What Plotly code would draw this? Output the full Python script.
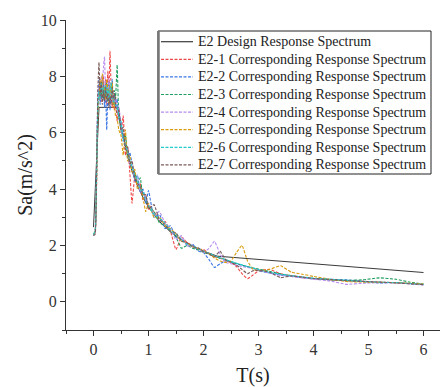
import plotly.graph_objects as go

# ---- data ----
design_T = [0.0, 0.1, 0.45, 0.5, 0.6, 0.7, 0.8, 0.9, 1.0, 1.2, 1.4, 1.6, 1.8, 2.0, 2.25, 6.0]
design_Sa = [2.65, 6.9, 6.9, 6.28, 5.33, 4.64, 4.11, 3.70, 3.36, 2.85, 2.48, 2.20, 1.98, 1.80, 1.62, 1.04]

T = [0.00, 0.03, 0.06, 0.08, 0.10, 0.12, 0.14, 0.16, 0.18, 0.20,
     0.22, 0.24, 0.26, 0.28, 0.30, 0.32, 0.34, 0.36, 0.38, 0.40,
     0.43, 0.46, 0.50, 0.54, 0.58, 0.62, 0.66, 0.70, 0.75, 0.80,
     0.85, 0.90, 0.95, 1.00, 1.10, 1.20, 1.30, 1.40, 1.50, 1.60,
     1.70, 1.80, 1.90, 2.00, 2.10, 2.20, 2.30, 2.40, 2.50, 2.60,
     2.70, 2.80, 2.90, 3.00, 3.20, 3.40, 3.60, 3.80, 4.00, 4.30,
     4.60, 4.90, 5.20, 5.50, 5.75, 6.00]

e2_1 = [2.4, 2.45, 4.6, 6.8, 7.3, 7.8, 7.1, 7.6, 8.0, 7.2,
        7.9, 7.0, 8.2, 7.4, 8.9, 7.6, 6.9, 7.5, 6.8, 7.3,
        6.4, 6.9, 6.0, 6.6, 5.2, 5.5, 4.6, 3.5, 4.4, 4.1,
        4.2, 3.6, 3.8, 3.3, 3.2, 2.9, 2.85, 2.5, 1.85, 2.3,
        2.1, 2.0, 1.85, 1.86, 1.7, 1.6, 1.55, 1.45, 1.4, 1.25,
        1.0, 0.82, 0.95, 1.1, 1.15, 1.0, 0.92, 0.86, 0.82, 0.78,
        0.75, 0.73, 0.70, 0.68, 0.65, 0.62]
e2_2 = [2.35, 2.5, 5.3, 7.3, 7.9, 7.0, 7.6, 7.2, 7.8, 6.9,
        7.5, 6.1, 7.3, 7.8, 6.8, 7.5, 7.9, 7.0, 7.4, 6.9,
        7.2, 6.5, 6.3, 5.7, 5.8, 5.1, 5.3, 4.9, 4.3, 4.5,
        3.9, 4.0, 3.5, 3.95, 3.0, 3.1, 2.6, 2.7, 2.3, 2.25,
        2.0, 2.05, 1.8, 1.75, 1.5, 1.22, 1.35, 1.45, 1.42, 1.35,
        1.3, 1.25, 1.18, 1.1, 1.02, 0.95, 0.9, 0.86, 0.82, 0.80,
        0.78, 0.73, 0.67, 0.68, 0.64, 0.61]
e2_3 = [2.4, 2.5, 4.8, 6.9, 7.4, 7.7, 7.3, 7.9, 7.2, 7.6,
        7.3, 7.8, 7.1, 7.6, 7.4, 7.2, 7.7, 7.0, 7.5, 7.2,
        8.4, 6.6, 6.1, 5.8, 5.9, 5.2, 5.0, 4.7, 4.6, 4.2,
        4.4, 3.7, 3.6, 3.4, 3.2, 2.8, 2.7, 2.5, 2.3, 1.9,
        2.0, 1.9, 1.85, 1.76, 1.68, 1.62, 1.55, 1.5, 1.42, 1.36,
        1.3, 1.24, 1.2, 1.16, 1.08, 0.99, 0.92, 0.87, 0.82, 0.77,
        0.76, 0.78, 0.85, 0.80, 0.70, 0.63]
e2_4 = [2.4, 2.5, 5.1, 7.1, 7.7, 7.4, 8.0, 7.5, 8.3, 8.7,
        7.4, 7.7, 7.2, 7.9, 7.3, 7.6, 7.1, 7.4, 7.0, 7.2,
        6.8, 6.9, 6.3, 5.8, 5.5, 5.4, 4.9, 4.8, 4.4, 4.4,
        3.9, 3.9, 3.6, 3.5, 3.1, 3.2, 2.8, 2.6, 2.2, 2.35,
        2.0, 1.95, 1.9, 1.75, 1.9, 2.15, 1.7, 1.4, 1.35, 1.3,
        1.25, 1.22, 1.18, 1.12, 1.02, 0.94, 0.9, 0.85, 0.8, 0.74,
        0.62, 0.66, 0.68, 0.67, 0.64, 0.60]
e2_5 = [2.4, 2.5, 4.9, 6.8, 7.2, 7.9, 7.4, 8.1, 7.3, 7.6,
        7.2, 7.9, 7.5, 7.0, 7.7, 7.3, 7.8, 6.9, 7.1, 6.6,
        6.5, 6.1, 5.9, 5.2, 6.1, 5.0, 5.2, 4.6, 4.7, 4.0,
        4.1, 3.7, 3.2, 3.5, 3.0, 3.0, 2.7, 2.6, 2.4, 2.15,
        2.1, 1.95, 1.9, 1.8, 1.72, 1.55, 1.45, 1.4, 1.45, 1.75,
        2.0, 1.45, 1.15, 1.1, 1.15, 1.28, 1.05, 0.98, 0.9, 0.8,
        0.72, 0.70, 0.69, 0.68, 0.66, 0.63]
e2_6 = [2.4, 2.5, 5.0, 7.0, 7.5, 7.2, 7.8, 7.4, 7.6, 7.3,
        7.7, 7.3, 7.6, 7.2, 7.5, 7.8, 7.2, 7.3, 7.0, 7.0,
        6.9, 6.6, 6.4, 5.8, 5.5, 5.4, 5.0, 4.8, 4.5, 4.3,
        4.0, 3.9, 3.7, 3.4, 3.1, 2.95, 2.8, 2.55, 2.4, 2.2,
        2.05, 1.98, 1.9, 1.8, 1.72, 1.64, 1.56, 1.5, 1.43, 1.37,
        1.31, 1.25, 1.2, 1.14, 1.05, 0.98, 0.93, 0.88, 0.84, 0.8,
        0.76, 0.72, 0.7, 0.68, 0.65, 0.62]
e2_7 = [2.35, 2.4, 5.2, 7.6, 8.5, 7.3, 7.8, 7.0, 7.5, 7.1,
        7.6, 7.2, 7.4, 6.9, 7.3, 7.0, 7.6, 7.2, 7.4, 7.0,
        6.7, 6.8, 6.1, 6.2, 5.4, 5.5, 4.9, 5.0, 4.4, 4.2,
        4.1, 3.8, 3.8, 3.3, 3.45, 2.9, 2.75, 2.5, 2.45, 2.15,
        2.1, 1.95, 1.92, 1.78, 1.7, 1.6, 1.8, 1.5, 1.4, 1.3,
        1.15, 1.0, 1.1, 1.12, 1.05, 0.86, 0.92, 0.88, 0.83, 0.79,
        0.75, 0.72, 0.70, 0.67, 0.64, 0.61]

design_name = "E2 Design Response Spectrum"
record_names = ["E2-1 Corresponding Response Spectrum",
                "E2-2 Corresponding Response Spectrum",
                "E2-3 Corresponding Response Spectrum",
                "E2-4 Corresponding Response Spectrum",
                "E2-5 Corresponding Response Spectrum",
                "E2-6 Corresponding Response Spectrum",
                "E2-7 Corresponding Response Spectrum"]
records = [e2_1, e2_2, e2_3, e2_4, e2_5, e2_6, e2_7]
colors = ["#F04848", "#3A78E6", "#1E9E5E", "#B88CF0", "#D99A0B", "#22CCCC", "#7A5A5A"]
design_color = "#3a3a3a"
DASH = "3px,1.5px"

FONT = "Liberation Serif, Times New Roman, serif"

fig = go.Figure()
fig.add_trace(go.Scatter(x=design_T, y=design_Sa, mode="lines", name=design_name,
                         line=dict(color=design_color, width=1)))
for name, vals, c in zip(record_names, records, colors):
    fig.add_trace(go.Scatter(x=T, y=vals, mode="lines", name=name,
                             line=dict(color=c, width=1.1, dash=DASH,
                                       shape="spline", smoothing=0.35)))

# ---- manual legend (compact row spacing as in the original) ----
L, R, TOP, BOT = 66, 440, 20, 330
def px(xp):
    return (xp - L) / (R - L)
def py(yp):
    return (BOT - yp) / (BOT - TOP)

shapes = [dict(type="rect", xref="paper", yref="paper",
               x0=px(158), x1=px(431), y0=py(174), y1=py(31),
               line=dict(color="#222", width=1), fillcolor="white", layer="above"),
          dict(type="line", xref="paper", yref="paper",
               x0=px(158.5), x1=px(158.5), y0=py(174), y1=py(31),
               line=dict(color="#777", width=2.5), layer="above")]
annotations = []
names = [design_name] + record_names
lcolors = [design_color] + colors
for i, (nm, c) in enumerate(zip(names, lcolors)):
    yrow = 41.7 + 17.6 * i
    shapes.append(dict(type="line", xref="paper", yref="paper",
                       x0=px(161), x1=px(193), y0=py(yrow), y1=py(yrow),
                       line=dict(color=c, width=1.2, dash=None if i == 0 else DASH),
                       layer="above"))
    annotations.append(dict(xref="paper", yref="paper", x=px(196), y=py(yrow),
                            xanchor="left", yanchor="middle", showarrow=False,
                            text=nm, font=dict(family=FONT, size=14, color="#222")))

axis_common = dict(showline=True, linecolor="#333", linewidth=1, showgrid=False,
                   zeroline=False, ticks="outside", ticklen=5, tickwidth=1,
                   tickcolor="#333", tickfont=dict(family=FONT, size=16, color="#333"),
                   mirror=False)

fig.update_layout(
    width=444, height=387,
    margin=dict(l=L, r=444 - R, t=TOP, b=387 - BOT),
    paper_bgcolor="white", plot_bgcolor="white",
    font=dict(family=FONT, color="#222"),
    showlegend=False,
    shapes=shapes,
    annotations=annotations,
    xaxis=dict(range=[-0.5, 6.3], tickmode="array", tickvals=[0, 1, 2, 3, 4, 5, 6],
               minor=dict(dtick=0.5, tick0=0, ticks="outside", ticklen=3, tickcolor="#333"),
               title=dict(text="T(s)", font=dict(family=FONT, size=20, color="#222"), standoff=10),
               **axis_common),
    yaxis=dict(range=[-1, 10], tickmode="array", tickvals=[0, 2, 4, 6, 8, 10],
               minor=dict(dtick=1, tick0=0, ticks="outside", ticklen=3, tickcolor="#333"),
               title=dict(text="Sa(m/s^2)", font=dict(family=FONT, size=20, color="#222"), standoff=2),
               **axis_common),
)

fig.write_html("out.html")
